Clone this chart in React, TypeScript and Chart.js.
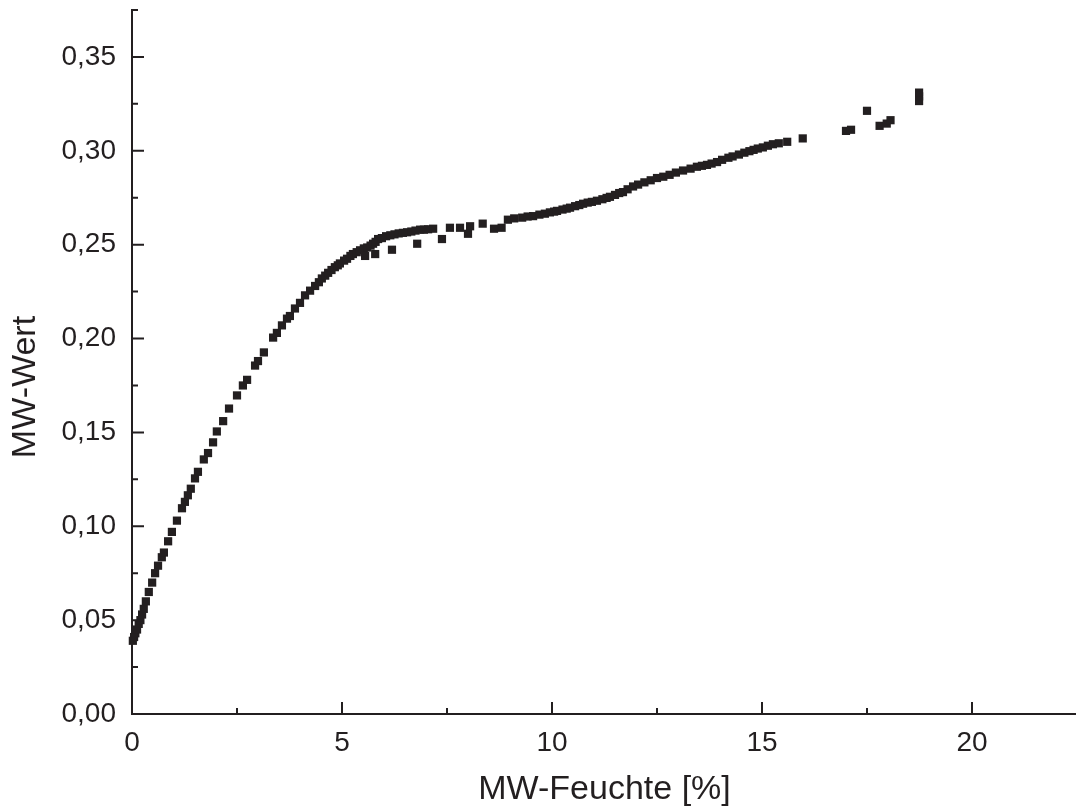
import React, { useEffect, useRef } from "react";
import { Chart, registerables } from "chart.js";

Chart.register(...registerables);

const xTitle = "MW-Feuchte [%]";
const yTitle = "MW-Wert";
const xTickValues = [0, 5, 10, 15, 20];
const yTickValues = [0, 0.05, 0.1, 0.15, 0.2, 0.25, 0.3, 0.35];

const moisture = [
  0.02, 0.05, 0.08, 0.12, 0.16, 0.2, 0.24, 0.28, 0.33, 0.4, 0.48, 0.55, 0.62, 0.71, 0.76, 0.86, 0.95,
  1.07, 1.19, 1.26, 1.33, 1.4, 1.5, 1.57, 1.71, 1.81, 1.93, 2.02, 2.17, 2.31, 2.5, 2.64, 2.74, 2.93,
  3.0, 3.14, 3.36, 3.45, 3.57, 3.69, 3.76, 3.88, 4.0, 4.12, 4.24, 4.36, 4.45, 4.52, 4.6, 4.67, 4.75,
  4.83, 4.9, 4.95, 5.05, 5.12, 5.2, 5.26, 5.35, 5.43, 5.52, 5.6, 5.68, 5.74, 5.8, 5.86, 5.95, 6.05,
  6.15, 6.25, 6.35, 6.45, 6.55, 6.65, 6.75, 6.86, 6.95, 7.05, 7.17,
  5.55, 5.79, 6.19, 6.79, 7.38,
  7.57, 7.81, 8.05, 8.0, 8.35, 8.62, 8.8, 8.95, 9.1, 9.29, 9.42, 9.55, 9.7, 9.83, 9.95, 10.05, 10.12,
  10.25, 10.35, 10.43, 10.55, 10.65, 10.74, 10.85, 10.95, 11.07, 11.2, 11.3, 11.38, 11.5, 11.6, 11.69,
  11.8, 11.93, 12.05, 12.2, 12.35, 12.5, 12.65, 12.8, 12.95, 13.12, 13.3, 13.45, 13.57, 13.69, 13.8,
  13.93, 14.05, 14.2, 14.3, 14.45, 14.58, 14.7, 14.8, 14.9, 15.02, 15.14, 15.26, 15.4, 15.6, 15.97,
  17.0, 17.12, 17.5, 17.8, 17.97, 18.06, 18.74, 18.74, 18.74,
];

const mwValue = [
  0.039, 0.041, 0.043, 0.045, 0.048, 0.05, 0.053, 0.056, 0.06, 0.065, 0.07, 0.075, 0.079, 0.0835, 0.086, 0.092, 0.097,
  0.103, 0.1096, 0.113, 0.1165, 0.12, 0.1255, 0.129, 0.1356, 0.139, 0.1447, 0.1505, 0.156, 0.1627, 0.1697, 0.175, 0.178, 0.1856,
  0.188, 0.1926, 0.2005, 0.203, 0.207, 0.2106, 0.212, 0.216, 0.219, 0.223, 0.2255, 0.228, 0.23, 0.232, 0.2335, 0.235, 0.2365,
  0.238, 0.239, 0.24, 0.2415, 0.2425, 0.244, 0.245, 0.246, 0.247, 0.248, 0.2485, 0.2495, 0.2505, 0.2515, 0.253, 0.2535, 0.2545,
  0.255, 0.2555, 0.256, 0.2563, 0.2566, 0.257, 0.2575, 0.258, 0.258, 0.2582, 0.2585,
  0.244, 0.245, 0.2473, 0.2505, 0.253,
  0.259, 0.259, 0.2598, 0.2558, 0.2612, 0.2585, 0.259, 0.2633, 0.264, 0.2644, 0.265, 0.2652, 0.266, 0.2665, 0.2672, 0.2676, 0.268,
  0.2687, 0.2692, 0.2697, 0.2705, 0.2711, 0.2718, 0.2724, 0.2728, 0.2734, 0.2742, 0.2749, 0.2755, 0.2765, 0.2775, 0.278,
  0.2795, 0.281, 0.282, 0.2832, 0.2843, 0.2855, 0.2862, 0.2872, 0.2884, 0.2895, 0.2905, 0.2915, 0.292, 0.2925, 0.2932,
  0.294, 0.2952, 0.2963, 0.297, 0.298, 0.299, 0.2998, 0.3005, 0.3012, 0.3018, 0.3027, 0.3035, 0.304, 0.3048, 0.3066,
  0.3106, 0.3112, 0.3213, 0.3133, 0.3145, 0.3163, 0.3265, 0.329, 0.331,
];

const INK = "#231f20";
const FONT = "'Liberation Sans', Arial, Helvetica, sans-serif";

const innerTicks = {
  id: "innerTicks",
  afterDraw(chart: any) {
    const { ctx } = chart;
    const xs = chart.scales.x;
    const ys = chart.scales.y;
    const area = chart.chartArea;
    ctx.save();
    ctx.strokeStyle = INK;
    ctx.lineWidth = 2;
    ctx.beginPath();
    const xStep = xTickValues[1] - xTickValues[0];
    for (const v of xTickValues) {
      const p = xs.getPixelForValue(v);
      ctx.moveTo(p, area.bottom);
      ctx.lineTo(p, area.bottom - 12);
    }
    for (let v = xStep / 2; v <= xs.max + 1e-9; v += xStep) {
      const p = xs.getPixelForValue(v);
      ctx.moveTo(p, area.bottom);
      ctx.lineTo(p, area.bottom - 6);
    }
    const yStep = yTickValues[1] - yTickValues[0];
    for (const v of yTickValues) {
      const p = ys.getPixelForValue(v);
      ctx.moveTo(area.left, p);
      ctx.lineTo(area.left + 12, p);
    }
    for (let v = yStep / 2; v <= ys.max + 1e-9; v += yStep) {
      const p = ys.getPixelForValue(v);
      ctx.moveTo(area.left, p);
      ctx.lineTo(area.left + 6, p);
    }
    ctx.stroke();

    // y axis title
    ctx.fillStyle = INK;
    ctx.font = `34px ${FONT}`;
    ctx.textAlign = "center";
    ctx.textBaseline = "middle";
    ctx.translate(26, 387);
    ctx.rotate(-Math.PI / 2);
    ctx.fillText(yTitle, 0, 0);
    ctx.restore();
  },
};

export default function App() {
  const ref = useRef<HTMLCanvasElement | null>(null);

  useEffect(() => {
    if (!ref.current) return;
    const data = moisture.map((x, i) => ({ x, y: mwValue[i] }));
    const chart = new Chart(ref.current, {
      type: "scatter",
      data: {
        datasets: [
          {
            data,
            pointStyle: "rect",
            pointRadius: 5.8,
            pointBorderWidth: 0,
            backgroundColor: INK,
            borderColor: INK,
            clip: false as any,
          },
        ],
      },
      plugins: [innerTicks],
      options: {
        responsive: false,
        animation: false,
        layout: { padding: { left: 0, right: 8, top: 10, bottom: 0 } },
        plugins: { legend: { display: false }, tooltip: { enabled: false } },
        scales: {
          x: {
            type: "linear",
            min: 0,
            max: 22.5,
            afterFit: (s: any) => {
              s.height = 95;
              s.paddingLeft = 0;
              s.paddingRight = 0;
            },
            afterBuildTicks: (s: any) => {
              s.ticks = xTickValues.map((v) => ({ value: v }));
            },
            grid: { display: false },
            border: { display: true, color: INK, width: 2 },
            ticks: {
              color: INK,
              font: { size: 28, family: FONT },
              padding: 4,
              maxRotation: 0,
              callback: (v: any) => String(v),
            },
            title: {
              display: true,
              text: xTitle,
              color: INK,
              font: { size: 34, family: FONT, lineHeight: 1 },
              padding: { top: 0, bottom: 2 },
            },
          },
          y: {
            type: "linear",
            min: 0,
            max: 0.375,
            afterFit: (s: any) => {
              s.width = 132;
              s.paddingTop = 0;
              s.paddingBottom = 0;
            },
            afterBuildTicks: (s: any) => {
              s.ticks = yTickValues.map((v) => ({ value: v }));
            },
            grid: { display: false },
            border: { display: true, color: INK, width: 2 },
            ticks: {
              color: INK,
              font: { size: 28, family: FONT },
              padding: 8,
              callback: (v: any) => Number(v).toFixed(2).replace(".", ","),
            },
          },
        },
      },
    });
    return () => chart.destroy();
  }, []);

  return (
    <div
      style={{
        position: "fixed",
        left: 0,
        top: 0,
        width: 1076,
        height: 809,
        overflow: "hidden",
        background: "#fff",
      }}
    >
      <canvas ref={ref} width={1085} height={809} style={{ display: "block" }} />
    </div>
  );
}
